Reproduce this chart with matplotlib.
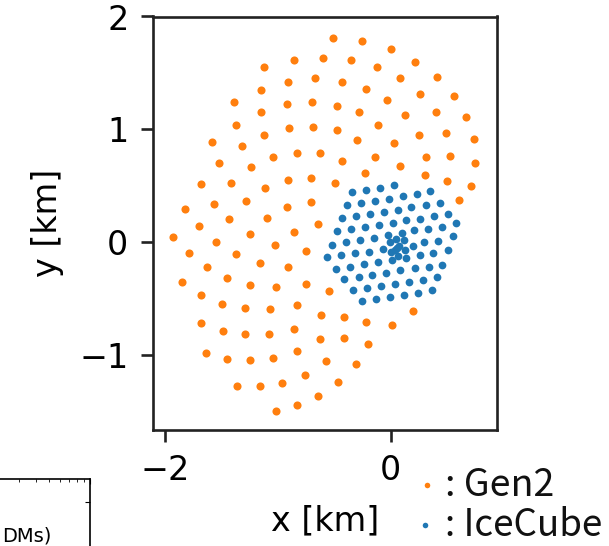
import matplotlib
matplotlib.use("Agg")
import matplotlib.pyplot as plt

# Gen2 string positions [km]
gen2_x = [-0.51, -0.25, 0.00, -0.86, -0.60, -0.35, 0.22, -1.12, -0.12, -0.91, -0.67, -0.43, 0.08, 0.41,
          -1.15, -0.22, 0.26, 0.56, -1.39, -0.92, -0.70, -0.48, -0.03, -1.15, -0.28, 0.13, 0.40, 0.67,
          -1.37, -0.90, -0.69, -0.48, -0.11, -1.12, 0.25, 0.49, -1.58, -0.30, 0.03, 0.74, -1.32, -0.83,
          -0.63, -1.04, -0.14, 0.31, 0.53, -1.52, -0.43, 0.08, 0.75, -1.24, -0.23, 0.30, -1.68, -1.42,
          -0.91, -0.71, -0.49, 0.50, 0.71, -1.11, 0.61, -1.57, -1.28, -0.71, -1.82, -0.92, -1.43, -1.10,
          -1.70, -0.64, -1.25, -0.86, -1.93, -1.55, -1.03, -0.75, -1.79, -1.37, -1.16, -1.63, -0.91, -1.45,
          -1.85, -1.25, -1.02, -0.75, -0.55, -1.68, -1.50, -1.29, -1.07, -0.83, 0.20, -0.62, -0.41, -1.68,
          -0.22, 0.01, -1.49, -1.29, -1.08, -0.86, -0.63, -0.41, -0.20, -1.64, -0.83, -1.45, -1.25, -1.04,
          -0.57, -0.31, -0.76, -0.47, -1.36, -1.16, -0.96, -0.64, -0.83, -1.02]
gen2_y = [1.81, 1.78, 1.71, 1.61, 1.63, 1.61, 1.60, 1.55, 1.55, 1.42, 1.45, 1.42, 1.45, 1.46,
          1.35, 1.36, 1.31, 1.29, 1.24, 1.22, 1.24, 1.21, 1.26, 1.15, 1.15, 1.13, 1.15, 1.11,
          1.04, 1.01, 1.02, 0.99, 1.04, 0.95, 0.95, 0.97, 0.89, 0.90, 0.88, 0.91, 0.85, 0.79,
          0.79, 0.75, 0.75, 0.75, 0.76, 0.70, 0.72, 0.67, 0.70, 0.66, 0.61, 0.59, 0.51, 0.52,
          0.55, 0.57, 0.52, 0.54, 0.50, 0.48, 0.37, 0.34, 0.36, 0.35, 0.29, 0.31, 0.20, 0.21,
          0.14, 0.16, 0.07, 0.09, 0.04, 0.00, -0.03, -0.08, -0.10, -0.11, -0.19, -0.22, -0.22, -0.32,
          -0.36, -0.38, -0.40, -0.37, -0.44, -0.47, -0.55, -0.59, -0.60, -0.56, -0.61, -0.65, -0.67, -0.72,
          -0.71, -0.74, -0.79, -0.82, -0.82, -0.77, -0.86, -0.85, -0.91, -0.99, -0.97, -1.04, -1.05, -1.03,
          -1.06, -1.08, -1.18, -1.24, -1.28, -1.28, -1.25, -1.37, -1.45, -1.50]

# IceCube string positions [km]
icecube_x = [-0.343, -0.219, -0.095, 0.029,
             -0.387, -0.263, -0.139, -0.015, 0.109, 0.233, 0.345,
             -0.432, -0.308, -0.184, -0.059, 0.062, 0.183, 0.310, 0.437,
             -0.476, -0.352, -0.228, -0.104, 0.017, 0.139, 0.263, 0.387, 0.511,
             -0.520, -0.396, -0.272, -0.151, -0.027, 0.097, 0.204, 0.334, 0.458, 0.582,
             -0.565, -0.441, -0.316, -0.192, -0.071, 0.056, 0.201, 0.298, 0.416, 0.549,
             -0.488, -0.364, -0.240, -0.116, 0.009, 0.133, 0.257, 0.375, 0.505,
             -0.411, -0.284, -0.163, -0.039, 0.085, 0.218, 0.337, 0.455,
             -0.331, -0.207, -0.086, 0.041, 0.162, 0.286, 0.408,
             -0.251, -0.127, -0.003, 0.121, 0.245, 0.366,
             -0.006, 0.050, 0.118, 0.130, 0.065, 0.003, 0.035, 0.077]
icecube_y = [0.443, 0.464, 0.482, 0.502,
             0.325, 0.346, 0.366, 0.384, 0.405, 0.423, 0.455,
             0.210, 0.230, 0.248, 0.269, 0.287, 0.307, 0.328, 0.343,
             0.092, 0.112, 0.133, 0.151, 0.171, 0.192, 0.207, 0.230, 0.251,
             -0.024, -0.003, 0.015, 0.035, 0.059, 0.077, 0.109, 0.118, 0.136, 0.163,
             -0.136, -0.121, -0.103, -0.086, -0.062, -0.053, -0.038, -0.003, 0.006, 0.050,
             -0.239, -0.222, -0.201, -0.180, -0.163, -0.145, -0.121, -0.100, -0.068,
             -0.334, -0.316, -0.296, -0.275, -0.254, -0.236, -0.219, -0.204,
             -0.431, -0.414, -0.393, -0.375, -0.355, -0.337, -0.316,
             -0.529, -0.511, -0.493, -0.473, -0.455, -0.431,
             0.003, 0.027, 0.015, -0.068, -0.124, -0.086, -0.068, -0.038]

x_ticks = [-2, 0]
y_ticks = [-1, 0, 1, 2]

W, H = 609, 546
fig = plt.figure(figsize=(W / 100, H / 100), dpi=100)

L, R, T, B = 152.7, 496.7, 16.5, 430
ax = fig.add_axes([L / W, 1 - B / H, (R - L) / W, (B - T) / H])
ax.scatter(gen2_x, gen2_y, s=34, color="#ff7f0e", linewidths=0, zorder=2)
ax.scatter(icecube_x, icecube_y, s=31, color="#1f77b4", linewidths=0, zorder=3)
ax.set_xlim(-2.11, 0.94)
ax.set_ylim(-1.67, 2.0)
ax.set_xticks(x_ticks)
ax.set_yticks(y_ticks)
ax.set_xticklabels(["\u22122", "0"])
ax.set_yticklabels(["\u22121", "0", "1", "2"])
ax.tick_params(labelsize=24, length=8.5, width=1.9, pad=9, color="#222222")
for sp in ax.spines.values():
    sp.set_linewidth(1.9)
    sp.set_color("#222222")
ax.set_xlabel("x [km]", fontsize=24, labelpad=12)
ax.set_ylabel("y [km]", fontsize=24, labelpad=11)

# legend drawn as markers and text below right
lg = fig.add_axes([0, 0, 1, 1], facecolor="none")
lg.set_xlim(0, W)
lg.set_ylim(H, 0)
lg.axis("off")
lg.scatter([427], [485], s=16, color="#ff7f0e", linewidths=0)
lg.scatter([425], [525], s=16, color="#1f77b4", linewidths=0)
lg.text(445, 485, ": Gen2", fontsize=27, family=["Noto Sans CJK JP", "DejaVu Sans"],
        va="center", ha="left", color="#111111")
lg.text(445, 526, ": IceCube", fontsize=26.5, family=["Noto Sans CJK JP", "DejaVu Sans"],
        va="center", ha="left", color="#111111")

# fragment of neighbouring panel at lower left
fr = fig.add_axes([-0.3, -0.3, 0.3 + 90 / W, 0.3 + (1 - 479 / H)])
fr.set_xscale("log")
fr.set_xlim(1, 100)
fr.set_ylim(0, 1)
fr.tick_params(which="both", direction="in", top=True, right=True,
               labelbottom=False, labelleft=False)
fr.set_yticks([0.9])
for sp in fr.spines.values():
    sp.set_linewidth(1.2)
fig.text(2 / W, 1 - 545 / H, "DMs)", fontsize=14, ha="left", va="bottom")

fig.savefig("out.png", dpi=100)
